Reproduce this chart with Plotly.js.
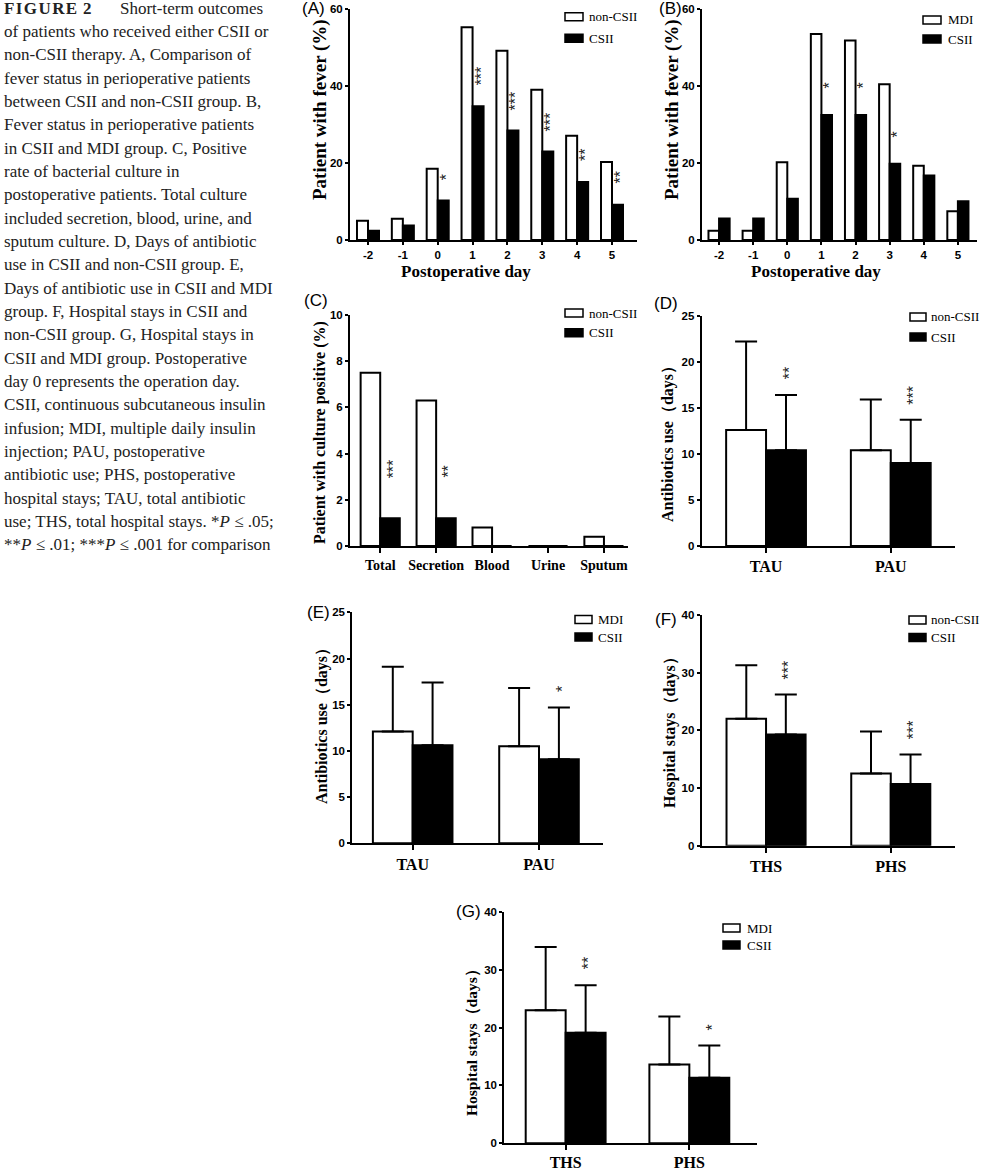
<!DOCTYPE html>
<html>
<head>
<meta charset="utf-8">
<script src="https://cdn.plot.ly/plotly-3.0.1.min.js"></script>
<style>html,body{margin:0;padding:0;background:#fff;}#chart{width:982px;height:1169px;}</style>
</head>
<body>
<div id="chart"></div>
<script>
// ---------------- DATA ----------------
const dayLabels = ['-2','-1','0','1','2','3','4','5'];
const feverNonCSII_A = [5.0, 5.5, 18.5, 55.3, 49.2, 39.1, 27.1, 20.3];
const feverCSII_A    = [2.4, 3.8, 10.3, 34.8, 28.5, 23.0, 15.1, 9.2];
const sigA = ['', '', '*', '***', '***', '***', '**', '**'];

const feverMDI_B  = [2.4, 2.4, 20.2, 53.6, 51.9, 40.5, 19.3, 7.5];
const feverCSII_B = [5.6, 5.6, 10.7, 32.5, 32.5, 19.8, 16.8, 10.1];
const sigB = ['', '', '', '*', '*', '*', '', ''];

const cultureCats = ['Total', 'Secretion', 'Blood', 'Urine', 'Sputum'];
const cultureNonCSII = [7.5, 6.3, 0.8, 0, 0.4];
const cultureCSII    = [1.2, 1.2, 0, 0, 0];
const sigC = ['***', '**', '', '', ''];

const antibioticCats = ['TAU', 'PAU'];
const abxNonCSII_D = [12.6, 10.4], abxNonCSII_D_SD = [9.6, 5.5];
const abxCSII_D    = [10.4, 9.0],  abxCSII_D_SD    = [6.0, 4.7];
const sigD = ['**', '***'];

const abxMDI_E  = [12.1, 10.5], abxMDI_E_SD  = [7.0, 6.3];
const abxCSII_E = [10.6, 9.1],  abxCSII_E_SD = [6.8, 5.6];
const sigE = ['', '*'];

const stayCats = ['THS', 'PHS'];
const stayNonCSII_F = [22.0, 12.5], stayNonCSII_F_SD = [9.3, 7.3];
const stayCSII_F    = [19.3, 10.7], stayCSII_F_SD    = [6.9, 5.1];
const sigF = ['***', '***'];

const stayMDI_G  = [23.0, 13.6], stayMDI_G_SD  = [10.9, 8.3];
const stayCSII_G = [19.1, 11.3], stayCSII_G_SD = [8.2, 5.6];
const sigG = ['**', '*'];

const captionLines = [
  null,
  'of patients who received either CSII or',
  'non-CSII therapy. A, Comparison of',
  'fever status in perioperative patients',
  'between CSII and non-CSII group. B,',
  'Fever status in perioperative patients',
  'in CSII and MDI group. C, Positive',
  'rate of bacterial culture in',
  'postoperative patients. Total culture',
  'included secretion, blood, urine, and',
  'sputum culture. D, Days of antibiotic',
  'use in CSII and non-CSII group. E,',
  'Days of antibiotic use in CSII and MDI',
  'group. F, Hospital stays in CSII and',
  'non-CSII group. G, Hospital stays in',
  'CSII and MDI group. Postoperative',
  'day 0 represents the operation day.',
  'CSII, continuous subcutaneous insulin',
  'infusion; MDI, multiple daily insulin',
  'injection; PAU, postoperative',
  'antibiotic use; PHS, postoperative',
  'hospital stays; TAU, total antibiotic',
  'use; THS, total hospital stays. *<i>P</i> ≤ .05;',
  '**<i>P</i> ≤ .01; ***<i>P</i> ≤ .001 for comparison'
];

// ---------------- LAYOUT HELPERS ----------------
const W = 982, H = 1169;
const px = v => v / W;
const py = v => 1 - v / H;
const SERIF = 'Liberation Serif, Times New Roman, serif';
const SANS = 'Liberation Sans, Arial, sans-serif';

const panels = [
  {lab:'(A)', labX:313, labY:9, x0:350, x1:637, yTop:9.3, yBot:240, cats:dayLabels, xr:[-0.516, 7.717], yMax:60, dt:20,
   w:0.316, white:feverNonCSII_A, black:feverCSII_A, sig:sigA, names:['non-CSII','CSII'], starBase:20,
   tickFont:{family:SANS, size:11.5, weight:'bold'}, tickStand:0, ticklen:3,
   ytitle:'Patient with fever (%)', ytX:320, ytY:110, ytSize:19,
   xtitle:'Postoperative day', xtX:466, xtY:271,
   leg:{bx:565, bw:18, cy:[16.7, 38.3], tx:587}},
  {lab:'(B)', labX:670, labY:9, x0:702, x1:977, yTop:9.3, yBot:240, cats:dayLabels, xr:[-0.5, 7.56], yMax:60, dt:20,
   w:0.31, white:feverMDI_B, black:feverCSII_B, sig:sigB, names:['MDI','CSII'], starBase:26,
   tickFont:{family:SANS, size:11.5, weight:'bold'}, tickStand:0, ticklen:3,
   ytitle:'Patient with fever (%)', ytX:672, ytY:110, ytSize:19,
   xtitle:'Postoperative day', xtX:816, xtY:271,
   leg:{bx:923, bw:18, cy:[20, 39], tx:946}},
  {lab:'(C)', labX:316, labY:301, x0:350, x1:628, yTop:315, yBot:546, cats:cultureCats, xr:[-0.54, 4.43], yMax:10, dt:2,
   w:0.35, white:cultureNonCSII, black:cultureCSII, sig:sigC, names:['non-CSII','CSII'], starBase:40,
   tickFont:{family:SERIF, size:14, weight:'bold'}, tickStand:0, ticklen:5,
   ytitle:'Patient with culture positive (%)', ytX:320, ytY:433, ytSize:16,
   leg:{bx:565, bw:18, cy:[313, 332.7], tx:587}},
  {lab:'(D)', labX:666, labY:303, x0:701.7, x1:955, yTop:315.7, yBot:546, cats:antibioticCats, xr:[-0.516, 1.515], yMax:25, dt:5,
   w:0.32, white:abxNonCSII_D, whiteSD:abxNonCSII_D_SD, black:abxCSII_D, blackSD:abxCSII_D_SD, sig:sigD, names:['non-CSII','CSII'], starBase:15,
   tickFont:{family:SERIF, size:16, weight:'bold'}, tickStand:0, ticklen:5,
   ytitle:'Antibiotics use（days）', ytX:668, ytY:440, ytSize:16,
   leg:{bx:910, bw:16, cy:[317, 337], tx:929}},
  {lab:'(E)', labX:318, labY:612, x0:352.3, x1:603.3, yTop:612.3, yBot:843.3, cats:antibioticCats, xr:[-0.478, 1.509], yMax:25, dt:5,
   w:0.315, white:abxMDI_E, whiteSD:abxMDI_E_SD, black:abxCSII_E, blackSD:abxCSII_E_SD, sig:sigE, names:['MDI','CSII'], starBase:15,
   tickFont:{family:SERIF, size:16, weight:'bold'}, tickStand:0, ticklen:5,
   ytitle:'Antibiotics use（days）', ytX:322, ytY:722, ytSize:16,
   leg:{bx:575, bw:17, cy:[619.5, 637], tx:596}},
  {lab:'(F)', labX:666, labY:619, x0:701.7, x1:955, yTop:615, yBot:845.7, cats:stayCats, xr:[-0.516, 1.515], yMax:40, dt:10,
   w:0.317, white:stayNonCSII_F, whiteSD:stayNonCSII_F_SD, black:stayCSII_F, blackSD:stayCSII_F_SD, sig:sigF, names:['non-CSII','CSII'], starBase:15,
   tickFont:{family:SERIF, size:16, weight:'bold'}, tickStand:0, ticklen:5,
   ytitle:'Hospital stays（days）', ytX:670, ytY:729, ytSize:16,
   leg:{bx:909, bw:17, cy:[620, 637.5], tx:929}},
  {lab:'(G)', labX:468, labY:911, x0:504.3, x1:757, yTop:911.7, yBot:1143.3, cats:stayCats, xr:[-0.496, 1.547], yMax:40, dt:10,
   w:0.323, white:stayMDI_G, whiteSD:stayMDI_G_SD, black:stayCSII_G, blackSD:stayCSII_G_SD, sig:sigG, names:['MDI','CSII'], starBase:15,
   tickFont:{family:SERIF, size:16, weight:'bold'}, tickStand:-2, ticklen:5,
   ytitle:'Hospital stays（days）', ytX:472, ytY:1039, ytSize:15.5,
   leg:{bx:723, bw:17, cy:[928, 945], tx:745}}
];

const traces = [];
const layout = {
  width: W, height: H, margin: {l:0, r:0, t:0, b:0},
  paper_bgcolor: '#fff', plot_bgcolor: 'rgba(0,0,0,0)',
  barmode: 'overlay', showlegend: false,
  annotations: [], shapes: [], font: {family: SANS, color: '#000'}
};

panels.forEach((p, i) => {
  const k = i === 0 ? '' : String(i + 1);
  const xa = 'x' + k, ya = 'y' + k;
  const errOpts = sd => sd ? {type:'data', symmetric:false, array:sd, arrayminus:sd.map(() => 0),
                              color:'#000', thickness:2, width:11, visible:true} : {visible:false};
  traces.push({type:'bar', name:p.names[0], x:p.cats, y:p.white, xaxis:xa, yaxis:ya,
    width:p.w, offset:-p.w, marker:{color:'#fff', line:{color:'#000', width:2}},
    error_y: errOpts(p.whiteSD), hoverinfo:'skip'});
  traces.push({type:'bar', name:p.names[1], x:p.cats, y:p.black, xaxis:xa, yaxis:ya,
    width:p.w, offset:0, marker:{color:'#000', line:{color:'#000', width:2}},
    error_y: errOpts(p.blackSD), hoverinfo:'skip'});

  layout['xaxis' + k] = {domain:[px(p.x0), px(p.x1)], anchor:ya, type:'category', range:p.xr,
    showline:true, linecolor:'#000', linewidth:2, ticks:'outside', ticklen:p.ticklen, tickwidth:2, tickcolor:'#000',
    showgrid:false, zeroline:false, tickfont:Object.assign({color:'#000'}, p.tickFont),
    ticklabelstandoff:p.tickStand, fixedrange:true};
  layout['yaxis' + k] = {domain:[py(p.yBot), py(p.yTop)], anchor:xa, range:[0, p.yMax], tick0:0, dtick:p.dt,
    showline:true, linecolor:'#000', linewidth:2, ticks:'outside', ticklen:3, tickwidth:2, tickcolor:'#000',
    showgrid:false, zeroline:false, tickfont:{family:SANS, size:11.5, weight:'bold', color:'#000'}, fixedrange:true};

  // significance stars above CSII bar (or its error bar)
  p.sig.forEach((s, j) => {
    if (!s) return;
    const top = p.black[j] + (p.blackSD ? p.blackSD[j] : 0);
    layout.annotations.push({xref:xa, yref:ya, x:j + p.w / 2, y:top, text:s, textangle:-90, showarrow:false,
      font:{family:SANS, size:16, color:'#222'}, yshift:p.starBase + s.length * 3.3, xshift:3});
  });

  // panel letter
  layout.annotations.push({xref:'paper', yref:'paper', x:px(p.labX), y:py(p.labY), text:p.lab, showarrow:false,
    xanchor:'center', yanchor:'middle', font:{family:SANS, size:17, color:'#000'}});
  // y title
  layout.annotations.push({xref:'paper', yref:'paper', x:px(p.ytX), y:py(p.ytY), text:p.ytitle, textangle:-90,
    showarrow:false, xanchor:'center', yanchor:'middle', font:{family:SERIF, size:p.ytSize, weight:'bold', color:'#000'}});
  // x title
  if (p.xtitle) layout.annotations.push({xref:'paper', yref:'paper', x:px(p.xtX), y:py(p.xtY), text:p.xtitle,
    showarrow:false, xanchor:'center', yanchor:'middle', font:{family:SERIF, size:17, weight:'bold', color:'#000'}});
  // legend
  p.names.forEach((n, j) => {
    const cy = p.leg.cy[j];
    layout.shapes.push({type:'rect', xref:'paper', yref:'paper', x0:px(p.leg.bx), x1:px(p.leg.bx + p.leg.bw),
      y0:py(cy + 4), y1:py(cy - 4), fillcolor: j === 0 ? '#fff' : '#000', line:{color:'#000', width:1.5}});
    layout.annotations.push({xref:'paper', yref:'paper', x:px(p.leg.tx), y:py(cy), text:n, showarrow:false,
      xanchor:'left', yanchor:'middle', font:{family:SERIF, size:13, color:'#000'}});
  });
});

// caption
const capFont = {family:SERIF, size:17, color:'#222'};
layout.annotations.push({xref:'paper', yref:'paper', x:px(2), y:py(8.3), text:'F\u200aI\u200aG\u200aU\u200aR\u200aE\u200a 2',
  showarrow:false, xanchor:'left', yanchor:'middle', font:{family:SERIF, size:17, weight:'bold', color:'#222'}});
layout.annotations.push({xref:'paper', yref:'paper', x:px(118), y:py(8.3), text:'Short-term outcomes',
  showarrow:false, xanchor:'left', yanchor:'middle', font:capFont});
captionLines.forEach((t, i) => {
  if (!t) return;
  layout.annotations.push({xref:'paper', yref:'paper', x:px(2), y:py(8.3 + i * 23.33), text:t,
    showarrow:false, xanchor:'left', yanchor:'middle', font:capFont});
});

Plotly.newPlot('chart', traces, layout, {displayModeBar:false, staticPlot:true});
</script>
</body>
</html>
